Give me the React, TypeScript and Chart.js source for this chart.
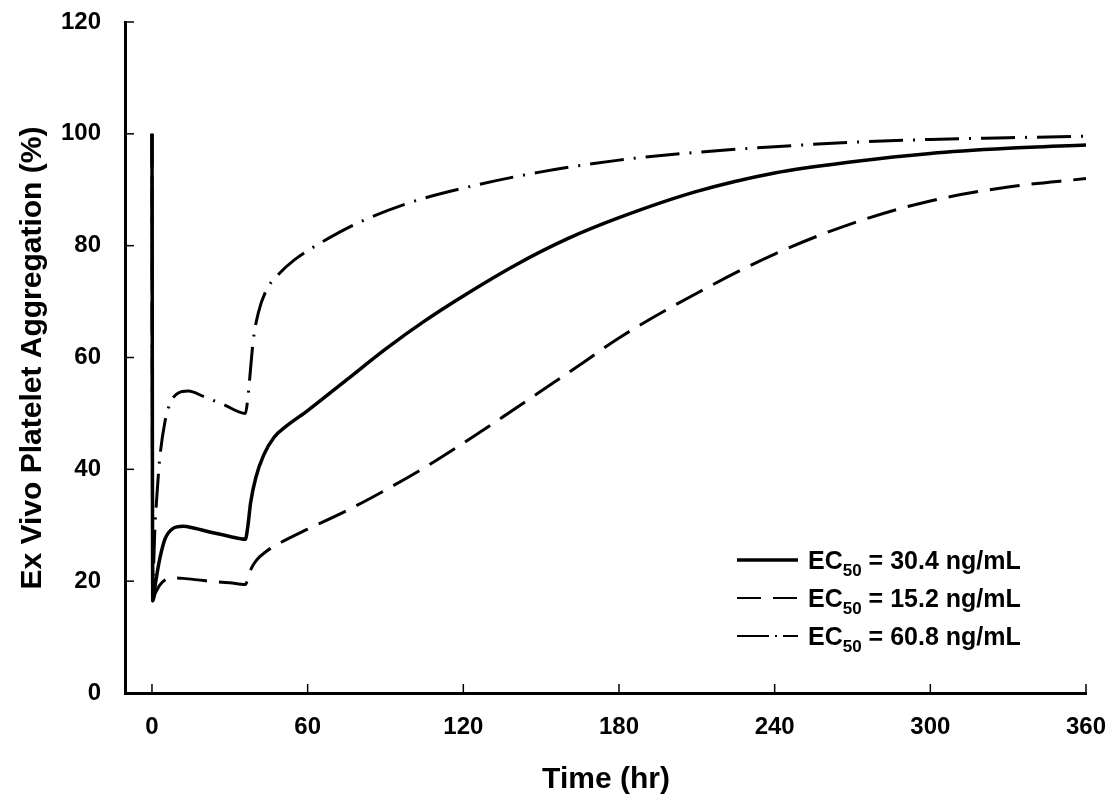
import { useEffect, useRef } from "react";
import { Chart, registerables } from "chart.js";

Chart.register(...registerables);

// time (hr) and aggregation (%)
const solidT = [0, 0.3, 0.6, 1, 2, 3, 5, 8, 12, 16, 24, 30, 36, 37, 38, 40, 43, 47, 52, 60, 75, 90, 105, 120, 140, 160, 180, 210, 240, 270, 300, 330, 360];
const solidY = [100, 16.5, 17, 18.5, 21.5, 24, 27.5, 29.4, 29.8, 29.5, 28.6, 28, 27.5, 30, 34, 38.5, 42.5, 45.7, 47.8, 50.5, 56, 61.5, 66.5, 71, 76.5, 81.2, 85, 89.7, 93, 95, 96.5, 97.4, 98];

const dashT = [0, 0.3, 0.6, 1, 2, 3, 5, 8, 12, 20, 30, 36, 37, 38, 40, 44, 50, 60, 75, 90, 105, 120, 135, 150, 165, 180, 210, 240, 270, 300, 330, 360];
const dashY = [100, 16.5, 16.8, 17.5, 18.5, 19.3, 20.2, 20.6, 20.5, 20.1, 19.7, 19.4, 20.5, 22, 23.6, 25.3, 27, 29.3, 32.6, 36.3, 40.3, 44.7, 49.3, 54, 58.7, 63.5, 71.5, 78.5, 84, 88, 90.5, 92];

const dashDotT = [0, 0.3, 0.6, 1, 2, 3, 5, 7, 10, 14, 20, 28, 36, 37, 38, 39, 41, 44, 48, 55, 65, 80, 100, 120, 150, 180, 210, 240, 270, 300, 330, 360];
const dashDotY = [100, 16.5, 22, 28, 36, 42, 48.5, 51.8, 53.6, 54, 53, 51.5, 50, 53, 58, 63, 68, 72, 74.5, 77.5, 80.5, 84.2, 87.8, 90.3, 93.2, 95.3, 96.7, 97.7, 98.5, 99, 99.3, 99.6];

const xTicks = [0, 60, 120, 180, 240, 300, 360];
const yTicks = [0, 20, 40, 60, 80, 100, 120];

const legendLabels = ["30.4", "15.2", "60.8"];
const dashes: number[][] = [[], [30, 12], [34, 10, 2, 10]];
const widths = [3.5, 3, 3];

const FONT = "'Liberation Sans', Arial, sans-serif";

const pts = (t: number[], y: number[]) => t.map((x, i) => ({ x, y: y[i] }));

const overlay = {
  id: "overlay",
  afterDraw(chart: any) {
    const { ctx, chartArea: a, scales } = chart;
    const sx = scales.x, sy = scales.y;
    ctx.save();
    ctx.strokeStyle = "#000";
    ctx.fillStyle = "#000";
    ctx.lineWidth = 1.5;
    // inward ticks
    xTicks.forEach((v) => {
      const px = sx.getPixelForValue(v);
      ctx.beginPath();
      ctx.moveTo(px, a.bottom);
      ctx.lineTo(px, a.bottom - 9);
      ctx.stroke();
    });
    yTicks.forEach((v) => {
      const py = sy.getPixelForValue(v);
      ctx.beginPath();
      ctx.moveTo(a.left, py);
      ctx.lineTo(a.left + 9, py);
      ctx.stroke();
    });
    // axis titles
    ctx.font = `bold 30px ${FONT}`;
    ctx.textAlign = "center";
    ctx.textBaseline = "middle";
    ctx.fillText("Time (hr)", 606, 780);
    ctx.save();
    ctx.translate(33, 358);
    ctx.rotate(-Math.PI / 2);
    ctx.fillText("Ex Vivo Platelet Aggregation (%)", 0, 0);
    ctx.restore();
    // legend
    ctx.textAlign = "left";
    ctx.textBaseline = "alphabetic";
    legendLabels.forEach((lab, i) => {
      const y = 560 + i * 38;
      ctx.setLineDash(i === 0 ? [] : i === 1 ? [24, 12] : [32, 6, 2, 6]);
      ctx.lineWidth = i === 0 ? 3.5 : 2;
      ctx.beginPath();
      ctx.moveTo(737, y);
      ctx.lineTo(798, y);
      ctx.stroke();
      ctx.setLineDash([]);
      let x = 808;
      const base = y + 9;
      ctx.font = `bold 25px ${FONT}`;
      ctx.fillText("EC", x, base);
      x += ctx.measureText("EC").width;
      ctx.font = `bold 17px ${FONT}`;
      ctx.fillText("50", x, base + 7);
      x += ctx.measureText("50").width;
      ctx.font = `bold 25px ${FONT}`;
      ctx.fillText(` = ${lab} ng/mL`, x, base);
    });
    ctx.restore();
  },
};

export default function App() {
  const canvasRef = useRef<HTMLCanvasElement>(null);

  useEffect(() => {
    document.body.style.margin = "0";
    const ctx = canvasRef.current?.getContext("2d");
    if (!ctx) return;
    const series = [pts(solidT, solidY), pts(dashT, dashY), pts(dashDotT, dashDotY)];
    const chart = new Chart(ctx, {
      type: "line",
      data: {
        datasets: series.map((d, i) => ({
          data: d,
          borderColor: "#000",
          borderWidth: widths[i],
          borderDash: dashes[i],
          pointRadius: 0,
          cubicInterpolationMode: "monotone" as const,
          fill: false,
        })),
      },
      plugins: [overlay],
      options: {
        animation: false,
        responsive: false,
        layout: { padding: { top: 22, right: 31, left: 0, bottom: 0 } },
        plugins: { legend: { display: false }, tooltip: { enabled: false } },
        scales: {
          x: {
            type: "linear",
            min: -10.4,
            max: 360,
            afterBuildTicks: (s: any) => { s.ticks = xTicks.map((v) => ({ value: v })); },
            afterFit: (s: any) => { s.height = 110; s.paddingLeft = 0; s.paddingRight = 0; },
            grid: { display: false },
            border: { display: true, color: "#000", width: 3 },
            ticks: { color: "#000", padding: 12, font: { family: FONT, size: 24, weight: "bold" } },
          },
          y: {
            min: 0,
            max: 120,
            afterBuildTicks: (s: any) => { s.ticks = yTicks.map((v) => ({ value: v })); },
            afterFit: (s: any) => { s.width = 125; s.paddingTop = 0; s.paddingBottom = 0; },
            grid: { display: false },
            border: { display: true, color: "#000", width: 3 },
            ticks: { color: "#000", padding: 16, font: { family: FONT, size: 24, weight: "bold" } },
          },
        },
      },
    });
    return () => chart.destroy();
  }, []);

  return <canvas ref={canvasRef} width={1117} height={803} style={{ display: "block" }} />;
}
